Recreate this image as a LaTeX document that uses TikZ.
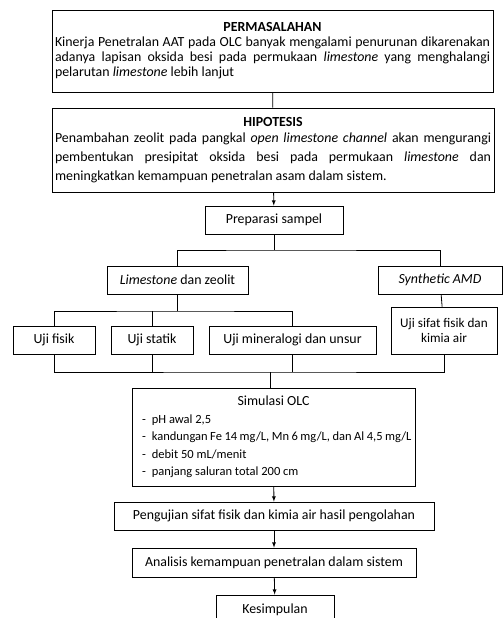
\documentclass[tikz,border=0pt]{standalone}
\usepackage{fontspec}
\setmainfont{Carlito}
\usepackage{tikz}
\usetikzlibrary{arrows,positioning}

\begin{document}
\begin{tikzpicture}[x=1pt, y=-1pt, font=\fontsize{13.9}{15}\selectfont,
		kotak/.style={draw, line width=0.8pt, inner sep=0pt, minimum height=28pt},
		teks/.style={kotak, text width=#1, align=justify, inner xsep=3pt},
		garis/.style={line width=0.8pt},
		panah/.style={garis, -latex}]
				\useasboundingbox (0, 0) rectangle (503, 618);
				\clip (0, 0) rectangle (503, 618);

				\node [teks=435pt, minimum height=82pt] (masalah) at (272.5, 51) {\noindent\hfill\textbf{PERMASALAHAN}\hfill\null\par\noindent Kinerja Penetralan AAT pada OLC banyak mengalami penurunan dikarenakan\linebreak adanya lapisan oksida besi pada permukaan \textit{limestone} yang menghalangi\linebreak pelarutan \textit{limestone} lebih lanjut\par\vspace{2pt}};
				\node [teks=436pt, minimum height=84pt] (hipotesis) at (273, 150) {\noindent\hfill\textbf{HIPOTESIS}\hfill\null\par\vspace{-3pt}\fontsize{13.9}{19}\selectfont\noindent Penambahan zeolit pada pangkal \textit{open limestone channel} akan mengurangi\linebreak pembentukan presipitat oksida besi pada permukaan \textit{limestone} dan\linebreak meningkatkan kemampuan penetralan asam dalam sistem.\par};
				\node [kotak, minimum width=138pt] (preparasi) at (274, 220) {Preparasi sampel};
				\node [kotak, minimum width=141pt] (limestone) at (177.5, 280) {\textit{Limestone} dan zeolit};
				\node [kotak, minimum width=124pt] (synthetic) at (440, 280) {\textit{Synthetic AMD}};
				\node [kotak, minimum width=82pt] (fisik) at (54, 340) {Uji fisik};
				\node [kotak, minimum width=82pt] (statik) at (152, 340) {Uji statik};
				\node [kotak, minimum width=167pt] (mineral) at (292.5, 340) {Uji mineralogi dan unsur};
				\node [kotak, minimum width=106pt, minimum height=47pt, align=flush center, font=\fontsize{13.2}{15}\selectfont] (sifat) at (444, 330.5) {Uji sifat fisik dan\\kimia air};
				\node [kotak, minimum width=283pt, minimum height=98pt, text width=276pt, align=flush left, font=\fontsize{12.5}{17.5}\selectfont] (simulasi) at (273.5, 437) {\hfill{\fontsize{13.9}{17.5}\selectfont Simulasi OLC}\hfill\null\\
					\hspace*{6.5pt}-\hspace{6pt}pH awal 2,5\\
					\hspace*{6.5pt}-\hspace{6pt}kandungan Fe 14 mg/L, Mn 6 mg/L, dan Al 4,5 mg/L\\
					\hspace*{6.5pt}-\hspace{6pt}debit 50 mL/menit\\
					\hspace*{6.5pt}-\hspace{6pt}panjang saluran total 200 cm};
				\node [kotak, minimum width=320pt] (pengujian) at (274, 516) {Pengujian sifat fisik dan kimia air hasil pengolahan};
				\node [kotak, minimum width=284pt, minimum height=29pt] (analisis) at (274, 562.5) {Analisis kemampuan penetralan dalam sistem};
				\node [kotak, minimum width=118pt, minimum height=30pt] (kesimpulan) at (275, 610) {Kesimpulan};

				\coordinate (cabang1) at (274, 250);
				\coordinate (cabang2) at (177.5, 311);
				\coordinate (gabung) at (270, 372);

				\draw [garis] (masalah) to (hipotesis);
				\draw [panah] (hipotesis) to (preparasi);
				\draw [garis] (preparasi) to (cabang1);
				\draw [garis] (limestone.north) |- (cabang1) -| (synthetic.north);
				\draw [garis] (limestone) to (cabang2);
				\draw [garis] (fisik.north) |- (cabang2) -| (mineral.north);
				\draw [garis] (statik.north) to (statik.north |- cabang2);
				\draw [garis] (synthetic) to (sifat);
				\draw [garis] (fisik.south) |- (gabung) -| (sifat.south);
				\draw [garis] (statik.south) to (statik.south |- gabung);
				\draw [garis] (mineral.south) to (mineral.south |- gabung);
				\draw [garis] (gabung) to (gabung |- simulasi.north);
				\draw [panah] (simulasi) to (pengujian);
				\draw [panah] (pengujian) to (analisis);
				\draw [panah] (analisis) to (kesimpulan);
		\end{tikzpicture}
\end{document}
